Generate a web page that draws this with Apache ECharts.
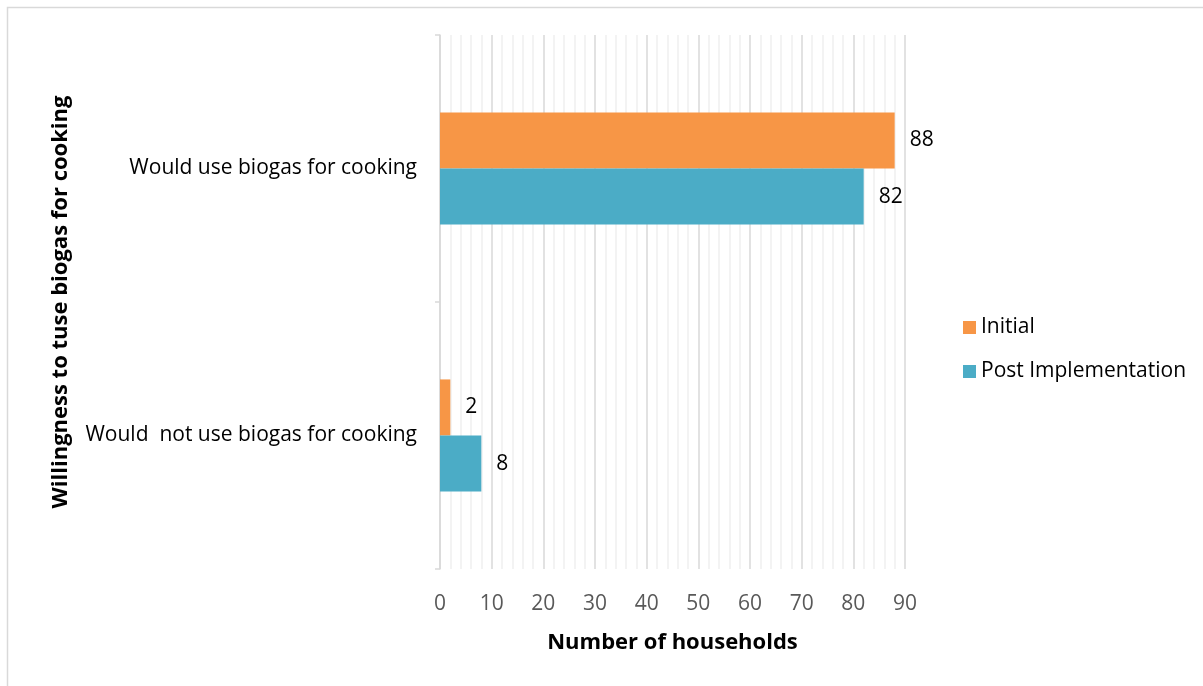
<!DOCTYPE html>
<html>
<head>
<meta charset="utf-8">
<script src="https://cdn.jsdelivr.net/npm/echarts@6/dist/echarts.min.js"></script>
<style>
  html, body { margin: 0; padding: 0; background: #ffffff; }
  #chart { width: 1203px; height: 686px; }
</style>
</head>
<body>
<div id="chart"></div>
<script>
// Willingness to use biogas for cooking, before and after implementation
const categories = ['Would use biogas for cooking', 'Would  not use biogas for cooking'];
const initialValues = [88, 2];
const postValues = [82, 8];
const seriesNames = ['Initial', 'Post Implementation'];
const xTicks = [0, 10, 20, 30, 40, 50, 60, 70, 80, 90];

const FONT = 'Open Sans';
const chart = echarts.init(document.getElementById('chart'), null, { renderer: 'canvas' });

const labelStyle = {
  show: true,
  position: 'right',
  distance: 15,
  color: '#000000',
  fontFamily: FONT,
  fontSize: 21,
  padding: [5, 0, 0, 0]
};

chart.setOption({
  animation: false,
  backgroundColor: '#ffffff',
  textStyle: { fontFamily: FONT },
  graphic: [{
    type: 'rect',
    shape: { x: 7.5, y: 7.5, width: 1220, height: 700 },
    style: { fill: null, stroke: '#d9d9d9', lineWidth: 1.5 },
    silent: true
  }],
  legend: {
    orient: 'vertical',
    left: 958,
    top: 312,
    itemWidth: 13,
    itemHeight: 13,
    itemGap: 23,
    icon: 'rect',
    textStyle: { fontFamily: FONT, fontSize: 21, color: '#000000' },
    data: seriesNames
  },
  grid: { left: 440, right: 298, top: 35, bottom: 117 },
  xAxis: {
    type: 'value',
    min: xTicks[0],
    max: xTicks[xTicks.length - 1],
    interval: 10,
    name: 'Number of households',
    nameLocation: 'middle',
    nameGap: 63,
    nameTextStyle: { fontFamily: FONT, fontSize: 22, fontWeight: 'bold', color: '#000000' },
    axisLine: { show: false },
    axisTick: { show: false },
    axisLabel: { margin: 25, fontFamily: FONT, fontSize: 21, color: '#595959' },
    splitLine: { show: true, lineStyle: { color: '#d9d9d9', width: 1.5 } },
    minorTick: { show: false, splitNumber: 5 },
    minorSplitLine: { show: true, lineStyle: { color: '#f0f0f0', width: 1.5 } }
  },
  yAxis: {
    type: 'category',
    inverse: true,
    data: categories,
    name: 'Willingness to tuse biogas for cooking',
    nameLocation: 'middle',
    nameRotate: 90,
    nameGap: 368,
    nameTextStyle: { fontFamily: FONT, fontSize: 22, fontWeight: 'bold', color: '#000000' },
    axisLine: { show: true, lineStyle: { color: '#d9d9d9', width: 1.5 } },
    axisTick: { show: true, length: 5, lineStyle: { color: '#d9d9d9', width: 1.5 } },
    axisLabel: { margin: 23, fontFamily: FONT, fontSize: 21, color: '#000000', padding: [6, 0, 0, 0] }
  },
  series: [
    {
      name: seriesNames[0],
      type: 'bar',
      data: initialValues,
      barCategoryGap: '58%',
      barGap: '0%',
      itemStyle: { color: '#F79646' },
      label: labelStyle
    },
    {
      name: seriesNames[1],
      type: 'bar',
      data: postValues,
      barCategoryGap: '58%',
      barGap: '0%',
      itemStyle: { color: '#4BACC6' },
      label: labelStyle
    }
  ]
});
</script>
</body>
</html>
